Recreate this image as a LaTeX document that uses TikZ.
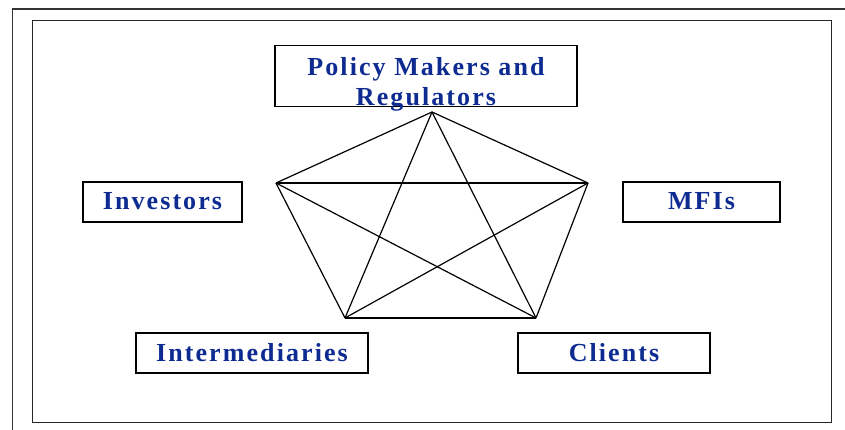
\documentclass[tikz,border=0pt]{standalone}
\usepackage{fontspec}
\usepackage{tikz}
\usetikzlibrary{positioning}
\newfontfamily\boxfont{Liberation Serif}[LetterSpace=8]
\definecolor{labelblue}{RGB}{13,43,145}
\tikzset{
  actor/.style={draw=black,line width=1.2pt,inner sep=0pt,minimum height=40pt,
    text height=16pt,text depth=0pt,font=\boxfont\bfseries\fontsize{26}{30}\selectfont,
    text=labelblue},
  link/.style={draw=black,line width=1.2pt}
}

\begin{document}
\begin{tikzpicture}[x=1pt,y=-1pt]
\useasboundingbox (0,0) rectangle (845,430);

% Frames
\draw[line width=1.8pt,black!80] (845,9) -- (12.5,9) -- (12.5,430);
\draw[line width=0.9pt,black!85] (32,20) rectangle (831,422);

% Stakeholders
\node[actor,minimum width=302pt,text height=60pt,text depth=1pt,align=center]
  (policy) at (426,45) [anchor=north] {Policy Makers and\\Regulators};
\node[actor,minimum width=159pt] (investors) at (162.5,202) {Investors};
\node[actor,minimum width=157pt] (mfis) at (701.5,202) {MFIs};
\node[actor,minimum width=232pt] (inter) at (252,353) {Intermediaries};
\node[actor,minimum width=192pt] (clients) at (614,353) {Clients};

% Pentagon corners
\coordinate (top) at (432,112);
\coordinate (left) at (276,183);
\coordinate (right) at (588,183);
\coordinate (botleft) at (345,318);
\coordinate (botright) at (536,318);

% Every corner joined to every other
\foreach \a/\b in {top/left,top/right,top/botleft,top/botright,
  left/right,left/botleft,left/botright,
  right/botleft,right/botright,botleft/botright}
  \draw[link] (\a) -- (\b);
\end{tikzpicture}
\end{document}
